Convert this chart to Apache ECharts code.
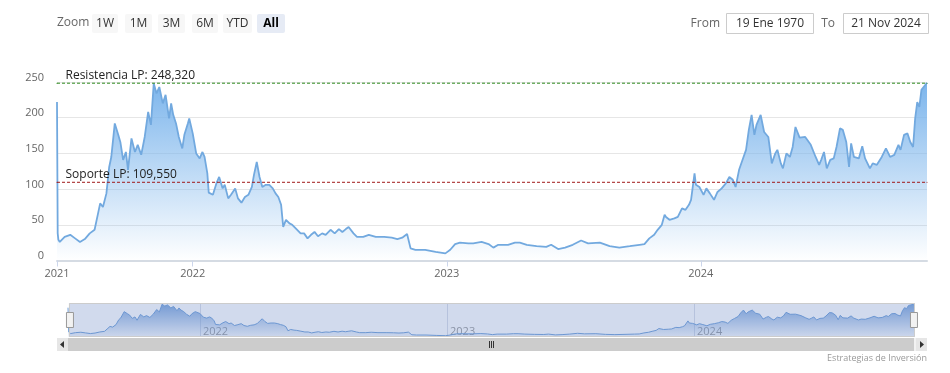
<!DOCTYPE html>
<html><head><meta charset="utf-8">
<script src="https://cdn.jsdelivr.net/npm/echarts@6/dist/echarts.min.js"></script>
<style>html,body{margin:0;padding:0;background:#fff}#c{width:950px;height:373px}</style>
</head><body><div id="c"></div>
<script>
// ---------- data ----------
const startDate = '2021-06-20';
const endDate = '2024-11-21';
const dayOffsets = [0,1,2,4,11,19,26,33,35,40,47,54,59,62,66,71,75,78,83,88,91,95,99,102,107,112,116,121,126,131,135,139,143,147,152,156,161,164,167,171,175,180,183,188,190,195,200,205,209,212,216,218,224,229,233,238,241,246,250,256,260,265,270,275,280,283,287,291,295,300,305,310,314,318,322,325,329,334,338,343,350,355,360,365,370,375,381,386,393,399,405,410,415,419,426,431,440,448,458,470,481,489,496,503,508,515,529,544,558,565,572,579,591,598,610,620,627,634,648,658,665,675,689,703,710,720,730,741,753,763,780,794,808,823,837,844,851,858,863,869,873,875,880,887,892,898,903,908,911,916,918,923,929,933,938,944,949,955,961,966,971,975,980,985,990,994,998,1002,1005,1011,1016,1022,1027,1032,1035,1040,1043,1048,1053,1057,1061,1067,1075,1083,1090,1095,1098,1102,1106,1111,1116,1120,1125,1129,1134,1138,1141,1145,1152,1157,1161,1168,1172,1178,1185,1191,1197,1203,1209,1212,1217,1222,1226,1230,1233,1236,1239,1242,1250];
const prices = [222,38,29,26,33,36,31,26,25,30,38,43,66,80,75,94,131,145,192,176,166,141,152,127,171,152,162,148,173,208,190,248,234,243,220,232,199,220,204,192,173,157,176,192,199,178,150,143,152,145,122,95,92,108,117,101,106,87,92,101,87,81,89,92,103,120,138,117,103,106,106,101,94,89,78,47,57,52,50,45,38,38,31,36,40,34,38,36,43,38,44,40,44,47,38,33,33,36,33,33,32,30,32,37,17,15,15,12,10,15,23,25,24,24,26,23,18,22,22,25,25,22,20,19,22,16,18,22,28,24,25,20,18,20,22,23,31,36,43,50,64,61,57,59,61,73,71,78,85,122,106,103,92,101,94,85,96,101,108,117,113,103,127,141,155,183,204,176,190,204,180,173,136,150,155,136,129,150,145,159,187,172,173,162,145,134,141,152,129,141,143,159,185,183,166,131,164,145,143,160,143,129,136,134,145,157,145,148,162,155,176,178,166,159,199,222,215,239,249];
const xTickDates = ['2021-06-20','2022-01-01','2023-01-01','2024-01-01'];
const xTickLabels = ['2021','2022','2023','2024'];
const navTickDates = ['2022-01-01','2023-01-01','2024-01-01'];
const navTickLabels = ['2022','2023','2024'];
const levelNames = ['Resistencia LP','Soporte LP'];
const levelValues = [248.32, 109.55];
const rangeButtons = ['1W','1M','3M','6M','YTD','All'];
const fromLabel = 'From', toLabel = 'To';
const fromValue = '19 Ene 1970', toValue = '21 Nov 2024';
const zoomLabel = 'Zoom';
const creditText = 'Estrategias de Inversión';

// ---------- build ----------
const DAY = 86400000;
const ts = s => Date.parse(s + 'T00:00:00Z');
const t0 = ts(startDate), tEnd = ts(endDate);
const seriesData = dayOffsets.map((d, i) => [t0 + d * DAY, prices[i]]);
const xTickTs = xTickDates.map(ts);
const navTickTs = navTickDates.map(ts);
const labelFor = (arr, labels) => v => { for (let i = 0; i < arr.length; i++) if (Math.abs(arr[i] - v) < DAY) return labels[i]; return ''; };
const fmtLevel = v => v.toFixed(3).replace('.', ',');
const levelColors = ['#2f8a1f', '#a01818'];

const FONT = "'Open Sans', 'Noto Sans', sans-serif";
const G = echarts.graphic;

const graphics = [];
graphics.push({type:'text', left:57, top:17, style:{text:zoomLabel, font:'12px ' + FONT, fill:'#666'}});
const btnX = [92,125,158,192,223,257], btnW = [26,27,27,26,29,28];
rangeButtons.forEach((b, i) => {
  const sel = b === 'All';
  graphics.push({type:'rect', shape:{x:btnX[i], y:14, width:btnW[i], height:19, r:2}, style:{fill: sel ? '#e6ebf5' : '#f7f7f7'}});
  graphics.push({type:'text', x:btnX[i] + btnW[i]/2, y:24, style:{text:b, font:(sel?'bold ':'') + '12px ' + FONT, fill: sel ? '#000' : '#333', align:'center', verticalAlign:'middle'}});
});
graphics.push({type:'text', x:720, y:24, style:{text:fromLabel, font:'12px ' + FONT, fill:'#666', align:'right', verticalAlign:'middle'}});
graphics.push({type:'rect', shape:{x:726.5, y:13.5, width:87, height:20}, style:{fill:'#fff', stroke:'#cccccc', lineWidth:1}});
graphics.push({type:'text', x:770, y:24, style:{text:fromValue, font:'12px ' + FONT, fill:'#333', align:'center', verticalAlign:'middle'}});
graphics.push({type:'text', x:835, y:24, style:{text:toLabel, font:'12px ' + FONT, fill:'#666', align:'right', verticalAlign:'middle'}});
graphics.push({type:'rect', shape:{x:843.5, y:13.5, width:85, height:20}, style:{fill:'#fff', stroke:'#cccccc', lineWidth:1}});
graphics.push({type:'text', x:886, y:24, style:{text:toValue, font:'12px ' + FONT, fill:'#333', align:'center', verticalAlign:'middle'}});
graphics.push({type:'rect', shape:{x:57, y:338, width:870, height:13}, style:{fill:'#f2f2f2'}});
graphics.push({type:'rect', shape:{x:68, y:338, width:846, height:13}, style:{fill:'#cccccc'}});
graphics.push({type:'rect', shape:{x:57, y:338, width:11, height:13}, style:{fill:'#e6e6e6'}});
graphics.push({type:'rect', shape:{x:916, y:338, width:11, height:13}, style:{fill:'#e6e6e6'}});
graphics.push({type:'polygon', shape:{points:[[64,341],[64,348],[60,344.5]]}, style:{fill:'#333'}});
graphics.push({type:'polygon', shape:{points:[[920,341],[920,348],[924,344.5]]}, style:{fill:'#333'}});
[489, 491, 493].forEach(x => graphics.push({type:'line', shape:{x1:x+0.5, y1:341, x2:x+0.5, y2:348}, style:{stroke:'#333', lineWidth:1}}));
graphics.push({type:'text', right:23, top:354, style:{text:creditText, font:'9px ' + FONT, fill:'#999'}});

// support / resistance levels as horizontal dashed series
const levelSeries = levelValues.map((v, i) => ({
  type:'line', xAxisIndex:0, yAxisIndex:0, silent:true, z:3,
  symbol:'circle', symbolSize:1, showSymbol:true,
  itemStyle:{color:levelColors[i]},
  lineStyle:{color:levelColors[i], type:[3,2], width:1},
  data:[
    {value:[t0, v], label:{show:true, position:[9,-13], formatter:levelNames[i] + ': ' + fmtLevel(v), color:'#222', fontSize:12, fontFamily:FONT}},
    {value:[tEnd, v]}
  ]
}));

const chart = echarts.init(document.getElementById('c'), null, {renderer:'canvas'});
chart.setOption({
  animation:false,
  backgroundColor:'#fff',
  textStyle:{fontFamily:FONT},
  grid:[
    {left:57, right:23, top:82, height:178.5},
    {left:68, right:36, top:304, height:33}
  ],
  xAxis:[
    {type:'value', gridIndex:0, min:t0, max:tEnd,
     axisLine:{lineStyle:{color:'#d5dbe3', width:2}},
     axisTick:{show:true, customValues:xTickTs, length:6, lineStyle:{color:'#ccd6eb'}},
     axisLabel:{customValues:xTickTs, formatter:labelFor(xTickTs, xTickLabels), color:'#666', fontSize:11, margin:8},
     splitLine:{show:false}},
    {type:'value', gridIndex:1, min:t0, max:tEnd,
     axisLine:{show:false},
     axisTick:{show:true, inside:true, customValues:navTickTs, length:33, lineStyle:{color:'#d8dde8'}},
     axisLabel:{customValues:navTickTs, formatter:labelFor(navTickTs, navTickLabels), inside:true, align:'left', padding:[0,0,0,3], margin:0, color:'#999', fontSize:11},
     splitLine:{show:false}}
  ],
  yAxis:[
    {type:'value', gridIndex:0, min:0, max:250, interval:50,
     axisLine:{show:false}, axisTick:{show:false},
     axisLabel:{color:'#666', fontSize:11, margin:13, verticalAlign:'bottom', lineHeight:9},
     splitLine:{lineStyle:{color:'#e6e6e6'}}},
    {type:'value', gridIndex:1, min:0, max:250, show:false}
  ],
  dataZoom:[{
    type:'slider', xAxisIndex:0, left:68, right:36, top:303, height:34, filterMode:'none',
    showDataShadow:false, showDetail:false, brushSelect:false, moveHandleSize:0,
    backgroundColor:'rgba(0,0,0,0)', borderColor:'#cccccc',
    fillerColor:'rgba(102,133,194,0.3)',
    handleIcon:'path://M0,0H7V15H0Z', handleSize:15,
    handleStyle:{color:'#f2f2f2', borderColor:'#999999', borderWidth:1},
    start:0, end:100
  }],
  series:[
    {type:'line', xAxisIndex:0, yAxisIndex:0, data:seriesData, showSymbol:false, symbol:'none', z:2,
     lineStyle:{color:'#72a9df', width:1.8}, itemStyle:{color:'#72a9df'},
     areaStyle:{color:new G.LinearGradient(0, 82, 0, 261, [{offset:0, color:'rgba(124,181,236,1)'},{offset:1, color:'rgba(124,181,236,0)'}], true), opacity:1}},
    ...levelSeries,
    {type:'line', xAxisIndex:1, yAxisIndex:1, data:seriesData, showSymbol:false, symbol:'none', silent:true,
     lineStyle:{color:'#6f9fd8', width:1},
     areaStyle:{color:new G.LinearGradient(0, 304, 0, 337, [{offset:0, color:'rgba(110,155,215,0.9)'},{offset:1, color:'rgba(110,155,215,0.05)'}], true), opacity:1}}
  ],
  graphic: graphics
});
</script></body></html>
